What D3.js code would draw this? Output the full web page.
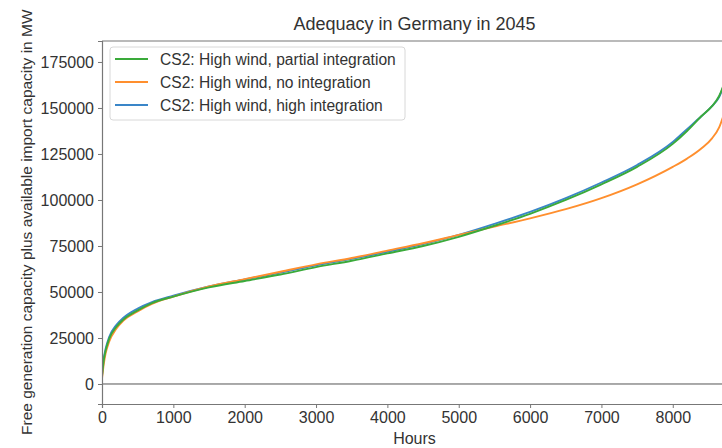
<!DOCTYPE html>
<html><head><meta charset="utf-8">
<script src="https://cdn.jsdelivr.net/npm/d3@7"></script>
<style>body{margin:0;background:#fff;} svg{display:block;font-family:"Liberation Sans",Arial,sans-serif;}</style>
</head><body>
<svg id="chart" width="722" height="448"></svg>
<script>
const hours = [0,25,50,100,200,300,500,700,1000,1500,2000,2500,3000,3500,4000,4500,5000,5500,6000,6500,7000,7500,8000,8200,8400,8550,8650,8760];
const partialIntegration = [4000,13000,18000,24500,31000,35000,40000,44000,47500,52500,56000,59500,63500,67000,71000,75000,80000,86000,92500,100000,108500,118000,130500,137500,145500,151000,156500,168000];
const noIntegration = [3000,11000,16500,23000,30000,34500,39500,43500,47500,53000,57000,61000,65000,68500,72500,76500,81000,85500,90000,95000,101000,108500,118000,122500,128000,133500,139500,152000];
const highIntegration = [5000,14000,19000,25500,32000,36000,41000,44500,48000,53000,56800,60500,64500,68000,71800,76000,81000,87000,93500,101000,109500,119000,131500,138500,145500,151000,156000,167000];
const seriesNames = ["CS2: High wind, partial integration","CS2: High wind, no integration","CS2: High wind, high integration"];
const seriesColors = ["#3aaa3a","#ff8f2e","#3a86c8"];
const xTicks = [0,1000,2000,3000,4000,5000,6000,7000,8000];
const yTicks = [0,25000,50000,75000,100000,125000,150000,175000];

const svg = d3.select("#chart");
const L = 102, R = 727, T = 41, B = 404;
const x = d3.scaleLinear().domain([0, 8760]).range([L, R]);
const y = d3.scaleLinear().domain([-10870, 186400]).range([B, T]);

svg.append("defs").append("clipPath").attr("id","clip")
  .append("rect").attr("x",L).attr("y",T).attr("width",R-L).attr("height",B-T);

// zero line
svg.append("line").attr("x1",L).attr("x2",R).attr("y1",y(0)).attr("y2",y(0))
  .attr("stroke","#555").attr("stroke-width",1);

const line = d3.line().x((d,i)=>x(hours[i])).y(d=>y(d)).curve(d3.curveMonotoneX);
const data = [partialIntegration, noIntegration, highIntegration];
const g = svg.append("g").attr("clip-path","url(#clip)");
[2,1,0].forEach(i=>{
  g.append("path").attr("d", line(data[i])).attr("fill","none")
    .attr("stroke", seriesColors[i]).attr("stroke-width",1.9);
});

// axes
const xAxis = svg.append("g").attr("transform",`translate(0,${B})`)
  .call(d3.axisBottom(x).tickValues(xTicks).tickSize(4).tickPadding(4).tickFormat(d3.format("d")));
const yAxis = svg.append("g").attr("transform",`translate(${L},0)`)
  .call(d3.axisLeft(y).tickValues(yTicks).tickSize(4).tickPadding(4).tickFormat(d3.format("d")));
[xAxis,yAxis].forEach(a=>{
  a.select(".domain").attr("stroke","#777").attr("stroke-width",1.2);
  a.selectAll(".tick line").attr("stroke","#777");
  a.selectAll(".tick text").attr("fill","#333").style("font-size","16px").style("font-family","Liberation Sans, Arial, sans-serif");
});
// top spine
svg.append("line").attr("x1",L).attr("x2",R).attr("y1",T).attr("y2",T).attr("stroke","#777").attr("stroke-width",1.2);

// title and labels
svg.append("text").attr("x",(L+R)/2).attr("y",30).attr("text-anchor","middle")
  .attr("fill","#333").style("font-size","18px").text("Adequacy in Germany in 2045");
svg.append("text").attr("x",(L+R)/2).attr("y",444).attr("text-anchor","middle")
  .attr("fill","#333").style("font-size","16px").text("Hours");
svg.append("text").attr("transform",`translate(32,435) rotate(-90)`).attr("text-anchor","start")
  .attr("fill","#333").style("font-size","15.5px").text("Free generation capacity plus available import capacity in MW");

// legend
const lg = svg.append("g");
lg.append("rect").attr("x",110).attr("y",47).attr("width",295).attr("height",73).attr("rx",3)
  .attr("fill","#fff").attr("fill-opacity",0.8).attr("stroke","#d8d8d8");
seriesNames.forEach((n,i)=>{
  const yy = 59 + i*23;
  lg.append("line").attr("x1",115).attr("x2",148).attr("y1",yy).attr("y2",yy)
    .attr("stroke",seriesColors[i]).attr("stroke-width",1.9);
  lg.append("text").attr("x",160).attr("y",yy+5.5).attr("fill","#333")
    .style("font-size","15.6px").text(n);
});
</script>
</body></html>
